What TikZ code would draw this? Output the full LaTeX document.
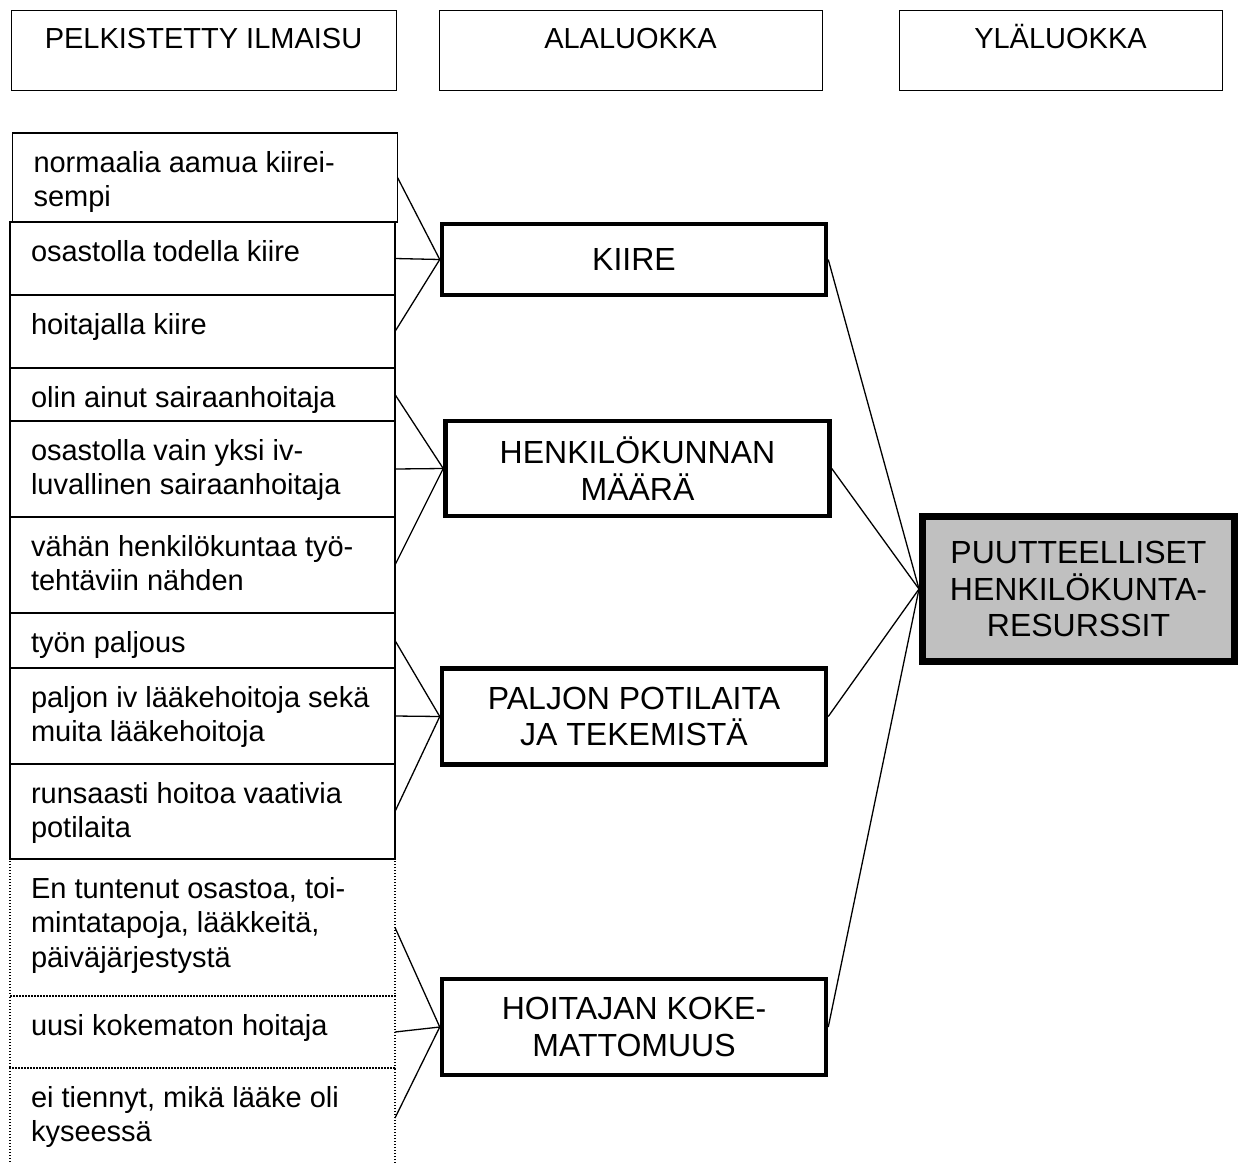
\documentclass[tikz,border=0pt]{standalone}
\usepackage{fontspec}
\setmainfont{Liberation Sans}
\usepackage{tikz}
\usetikzlibrary{positioning}
\definecolor{catgray}{RGB}{192,192,192}
\newcommand{\cell}[2]{\parbox[t][#1][t]{385pt}{\raggedright\leftskip=21pt\vspace*{15pt}\strut #2}}
\newcommand{\headcell}[2]{\parbox[t][80pt][t]{#1}{\centering\vspace*{14pt}\strut #2}}

\begin{document}
\begin{tikzpicture}[x=1pt, y=-1pt,
  every node/.style={font=\fontsize{29}{34.5}\selectfont},
  headbox/.style={draw, line width=1pt, inner sep=0pt, outer sep=0pt, anchor=north west},
  codebox/.style={draw, line width=1.2pt, inner sep=0pt, outer sep=0pt},
  codeboxdot/.style={codebox, line width=1.4pt, dash pattern=on 1.4pt off 1.6pt},
  subbox/.style={draw, line width=4.5pt, minimum width=384pt, align=center, font=\fontsize{32}{36.8}\selectfont},
  mainbox/.style={draw, line width=7pt, fill=catgray, minimum width=312pt, minimum height=145pt, align=center, font=\fontsize{32}{36.8}\selectfont},
  tie/.style={line width=1.3pt}]
\useasboundingbox (0,0) rectangle (1244,1162);
\node[headbox] (h1) at (11,10) {\headcell{385pt}{PELKISTETTY ILMAISU}};
\node[headbox] (h2) at (439,10) {\headcell{383pt}{ALALUOKKA}};
\node[headbox] (h3) at (899,10) {\headcell{323pt}{YLÄLUOKKA}};
\node[codebox, anchor=north west] (c1) at (12.5,133) {\cell{89pt}{normaalia aamua kiirei-\\sempi}};
\node[codebox, anchor=north west] (c2) at (10,222) {\cell{73pt}{osastolla todella kiire}};
\node[codebox, below=0pt of c2] (c3) {\cell{73pt}{hoitajalla kiire}};
\node[codebox, below=0pt of c3] (c4) {\cell{53pt}{olin ainut sairaanhoitaja}};
\node[codebox, below=0pt of c4] (c5) {\cell{96pt}{osastolla vain yksi iv-\\luvallinen sairaanhoitaja}};
\node[codebox, below=0pt of c5] (c6) {\cell{96pt}{vähän henkilökuntaa työ-\\tehtäviin nähden}};
\node[codebox, below=0pt of c6] (c7) {\cell{55pt}{työn paljous}};
\node[codebox, below=0pt of c7] (c8) {\cell{96pt}{paljon iv lääkehoitoja sekä\\muita lääkehoitoja}};
\node[codebox, below=0pt of c8] (c9) {\cell{95pt}{runsaasti hoitoa vaativia\\potilaita}};
\node[codeboxdot, below=0pt of c9] (d1) {\cell{137pt}{En tuntenut osastoa, toi-\\mintatapoja, lääkkeitä,\\päiväjärjestystä}};
\node[codeboxdot, below=0pt of d1] (d2) {\cell{72pt}{uusi kokematon hoitaja}};
\node[codeboxdot, below=0pt of d2] (d3) {\cell{100pt}{ei tiennyt, mikä lääke oli\\kyseessä}};
\node[subbox, minimum height=71pt] (kiire) at (634,259.5) {KIIRE};
\node[subbox, minimum height=95pt] (maara) at (637.5,468.5) {HENKILÖKUNNAN\\MÄÄRÄ};
\node[subbox, minimum height=96pt] (paljon) at (634,716.5) {PALJON POTILAITA\\JA TEKEMISTÄ};
\node[subbox, minimum height=96pt] (kokem) at (634,1027) {HOITAJAN KOKE-\\MATTOMUUS};
\node[mainbox] (puute) at (1078.5,589) {PUUTTEELLISET\\HENKILÖKUNTA-\\RESURSSIT};
\draw[tie] (c1.east) -- (kiire.west);
\draw[tie] (c2.east) -- (kiire.west);
\draw[tie] (c3.east) -- (kiire.west);
\draw[tie] (c4.east) -- (maara.west);
\draw[tie] (c5.east) -- (maara.west);
\draw[tie] (c6.east) -- (maara.west);
\draw[tie] (c7.east) -- (paljon.west);
\draw[tie] (c8.east) -- (paljon.west);
\draw[tie] (c9.east) -- (paljon.west);
\draw[tie] (d1.east) -- (kokem.west);
\draw[tie] (d2.east) -- (kokem.west);
\draw[tie] (d3.east) -- (kokem.west);
\draw[tie] (kiire.east) -- (puute.west);
\draw[tie] (maara.east) -- (puute.west);
\draw[tie] (paljon.east) -- (puute.west);
\draw[tie] (kokem.east) -- (puute.west);
\end{tikzpicture}
\end{document}
